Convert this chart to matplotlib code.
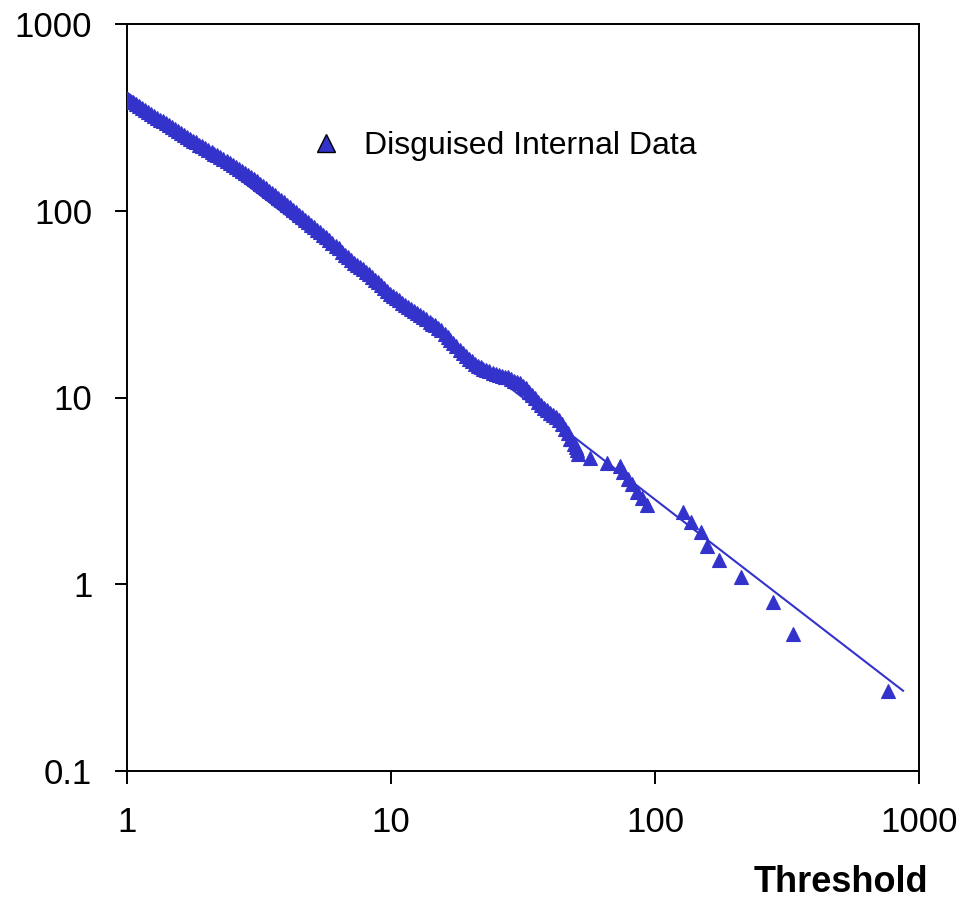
"""Log-log exceedance plot: disguised internal data vs threshold, with power-law line."""

import matplotlib
matplotlib.use("Agg")
import matplotlib.pyplot as plt
import matplotlib.ticker as ticker
from matplotlib.lines import Line2D

plt.rcParams["font.family"] = ["Liberation Sans", "DejaVu Sans"]

BLUE = "#3333CC"

# dense part of the data
band_x = [1.00, 1.05, 1.11, 1.17, 1.23, 1.30, 1.37, 1.44, 1.52, 1.60, 1.69, 1.78,
          1.88, 1.98, 2.09, 2.20, 2.32, 2.45, 2.58, 2.72, 2.87, 3.02, 3.19, 3.36,
          3.54, 3.73, 3.93, 4.15, 4.37, 4.61, 4.86, 5.12, 5.40, 5.69, 6.00, 6.33,
          6.67, 7.03, 7.41, 7.81, 8.24, 8.68, 9.15, 9.65, 10.2, 10.7, 11.3, 11.9,
          12.6, 13.2, 14.0, 14.7, 15.5, 16.4, 17.2, 18.2, 19.2, 20.2, 21.3, 22.4,
          23.6, 24.9, 26.3, 27.7, 29.2, 30.8, 32.4, 34.2, 36.0, 38.0, 40.0, 42.2,
          44.5, 46.9, 47.5, 49.4, 50.0, 50.6, 51.1]
band_y = [396, 380, 362, 346, 331, 315, 301, 288, 274, 262, 249, 237.5,
          226, 216, 206.5, 198, 189, 180, 172, 164, 156, 148, 139.4, 131.7,
          124.3, 117.4, 110.9, 104.5, 98.3, 92.2, 86.6, 81.5, 76.9, 72.3, 67.5, 62.8,
          58.3, 54.2, 51.3, 48.5, 45.8, 42.8, 39.9, 37.1, 34.8, 33.1, 31.3, 29.8,
          28.2, 27.0, 25.5, 24.3, 22.9, 21.0, 19.6, 18.0, 16.7, 15.6, 14.8, 14.2,
          13.8, 13.4, 13.1, 12.8, 12.3, 11.9, 11.2, 10.3, 9.5, 8.82, 8.26, 7.91,
          7.21, 6.42, 6.0, 5.62, 5.4, 5.24, 4.98]

# more readings in between along the same band
band2_x = [1.025, 1.08, 1.14, 1.20, 1.265, 1.335, 1.405, 1.48, 1.56, 1.645, 1.735,
           1.83, 1.93, 2.035, 2.145, 2.26, 2.385, 2.515, 2.65, 2.795, 2.945, 3.105,
           3.275, 3.45, 3.635, 3.83, 4.04, 4.26, 4.49, 4.735, 4.99, 5.26, 5.545,
           5.845, 6.165, 6.50, 6.85, 7.22, 7.61, 8.02, 8.46, 8.91, 9.40, 9.92,
           10.45, 11.0, 11.6, 12.25, 12.9, 13.6, 14.35, 15.1, 15.95, 16.8, 17.7,
           18.7, 19.7, 20.75, 21.85, 23.0, 24.25, 25.6, 27.0, 28.45, 30.0, 31.6,
           33.3, 35.1, 37.0, 39.0, 41.1, 43.3, 45.7, 48.2]
band2_y = [388, 371, 354, 338, 323, 308, 294.5, 281, 268, 255.5, 243,
           232, 221, 211, 202, 193.5, 184.5, 176, 168, 160, 152, 143.6,
           135.5, 128, 120.8, 114.1, 107.7, 101.4, 95.2, 89.4, 84, 79.2, 74.6,
           69.9, 65.1, 60.5, 56.2, 52.7, 49.9, 47.1, 44.3, 41.3, 38.5, 35.9,
           33.9, 32.2, 30.5, 29.0, 27.6, 26.2, 24.9, 23.6, 21.9, 20.3, 18.8,
           17.3, 16.1, 15.2, 14.5, 14.0, 13.6, 13.25, 12.95, 12.55, 12.1, 11.55,
           10.75, 9.9, 9.15, 8.54, 8.08, 7.56, 6.8, 6.0]

# sparse tail
tail_x = [56.7, 65.8, 73.7, 75.5, 79.0, 82.0, 85.5, 89.0, 93.0,
          128, 137, 149, 157, 175, 212, 280, 333, 763]
tail_y = [4.74, 4.46, 4.30, 4.0, 3.66, 3.44, 3.12, 2.90, 2.66,
          2.44, 2.15, 1.90, 1.60, 1.35, 1.09, 0.80, 0.54, 0.268]

# fitted power-law line (end points)
fit_x = [1, 870]
fit_y = [430, 0.269]

x_ticks = [1, 10, 100, 1000]
y_ticks = [0.1, 1, 10, 100, 1000]

fig = plt.figure(figsize=(9.62, 9.0), dpi=100)
ax = fig.add_axes([127/962, 129/900, 792/962, 747/900])

all_x = band_x + band2_x + tail_x
all_y = band_y + band2_y + tail_y
ax.plot(all_x, all_y, ls="none", marker="^", ms=10.5, mfc=BLUE, mec=BLUE,
        mew=0.8, zorder=3)
ax.plot(fit_x, fit_y, color=BLUE, lw=1.5, zorder=4)

ax.set_xscale("log"); ax.set_yscale("log")
ax.set_xlim(1, 1000); ax.set_ylim(0.1, 1000)
ax.set_xticks(x_ticks); ax.set_yticks(y_ticks)
fmt = ticker.FuncFormatter(lambda v, p: f"{v:g}")
ax.xaxis.set_major_formatter(fmt); ax.yaxis.set_major_formatter(fmt)
ax.xaxis.set_minor_locator(ticker.NullLocator())
ax.yaxis.set_minor_locator(ticker.NullLocator())
ax.tick_params(direction="out", length=9, width=1.4, labelsize=25, pad=16,
               colors="black")
for sp in ax.spines.values():
    sp.set_linewidth(1.4); sp.set_color("black")

hand = [Line2D([0], [0], ls="none", marker="^", ms=13, mfc=BLUE, mec="black",
               mew=1.0)]
ax.legend(handles=hand, labels=["Disguised Internal Data"], loc="center left",
          bbox_to_anchor=(0.207, 0.837), frameon=False, fontsize=23,
          handletextpad=0.6, borderpad=0, handlelength=1.2)

fig.text(928/962, 1 - 892/900, "Threshold", ha="right", va="baseline",
         fontsize=26, fontweight="bold")

fig.savefig("out.png", dpi=100)
